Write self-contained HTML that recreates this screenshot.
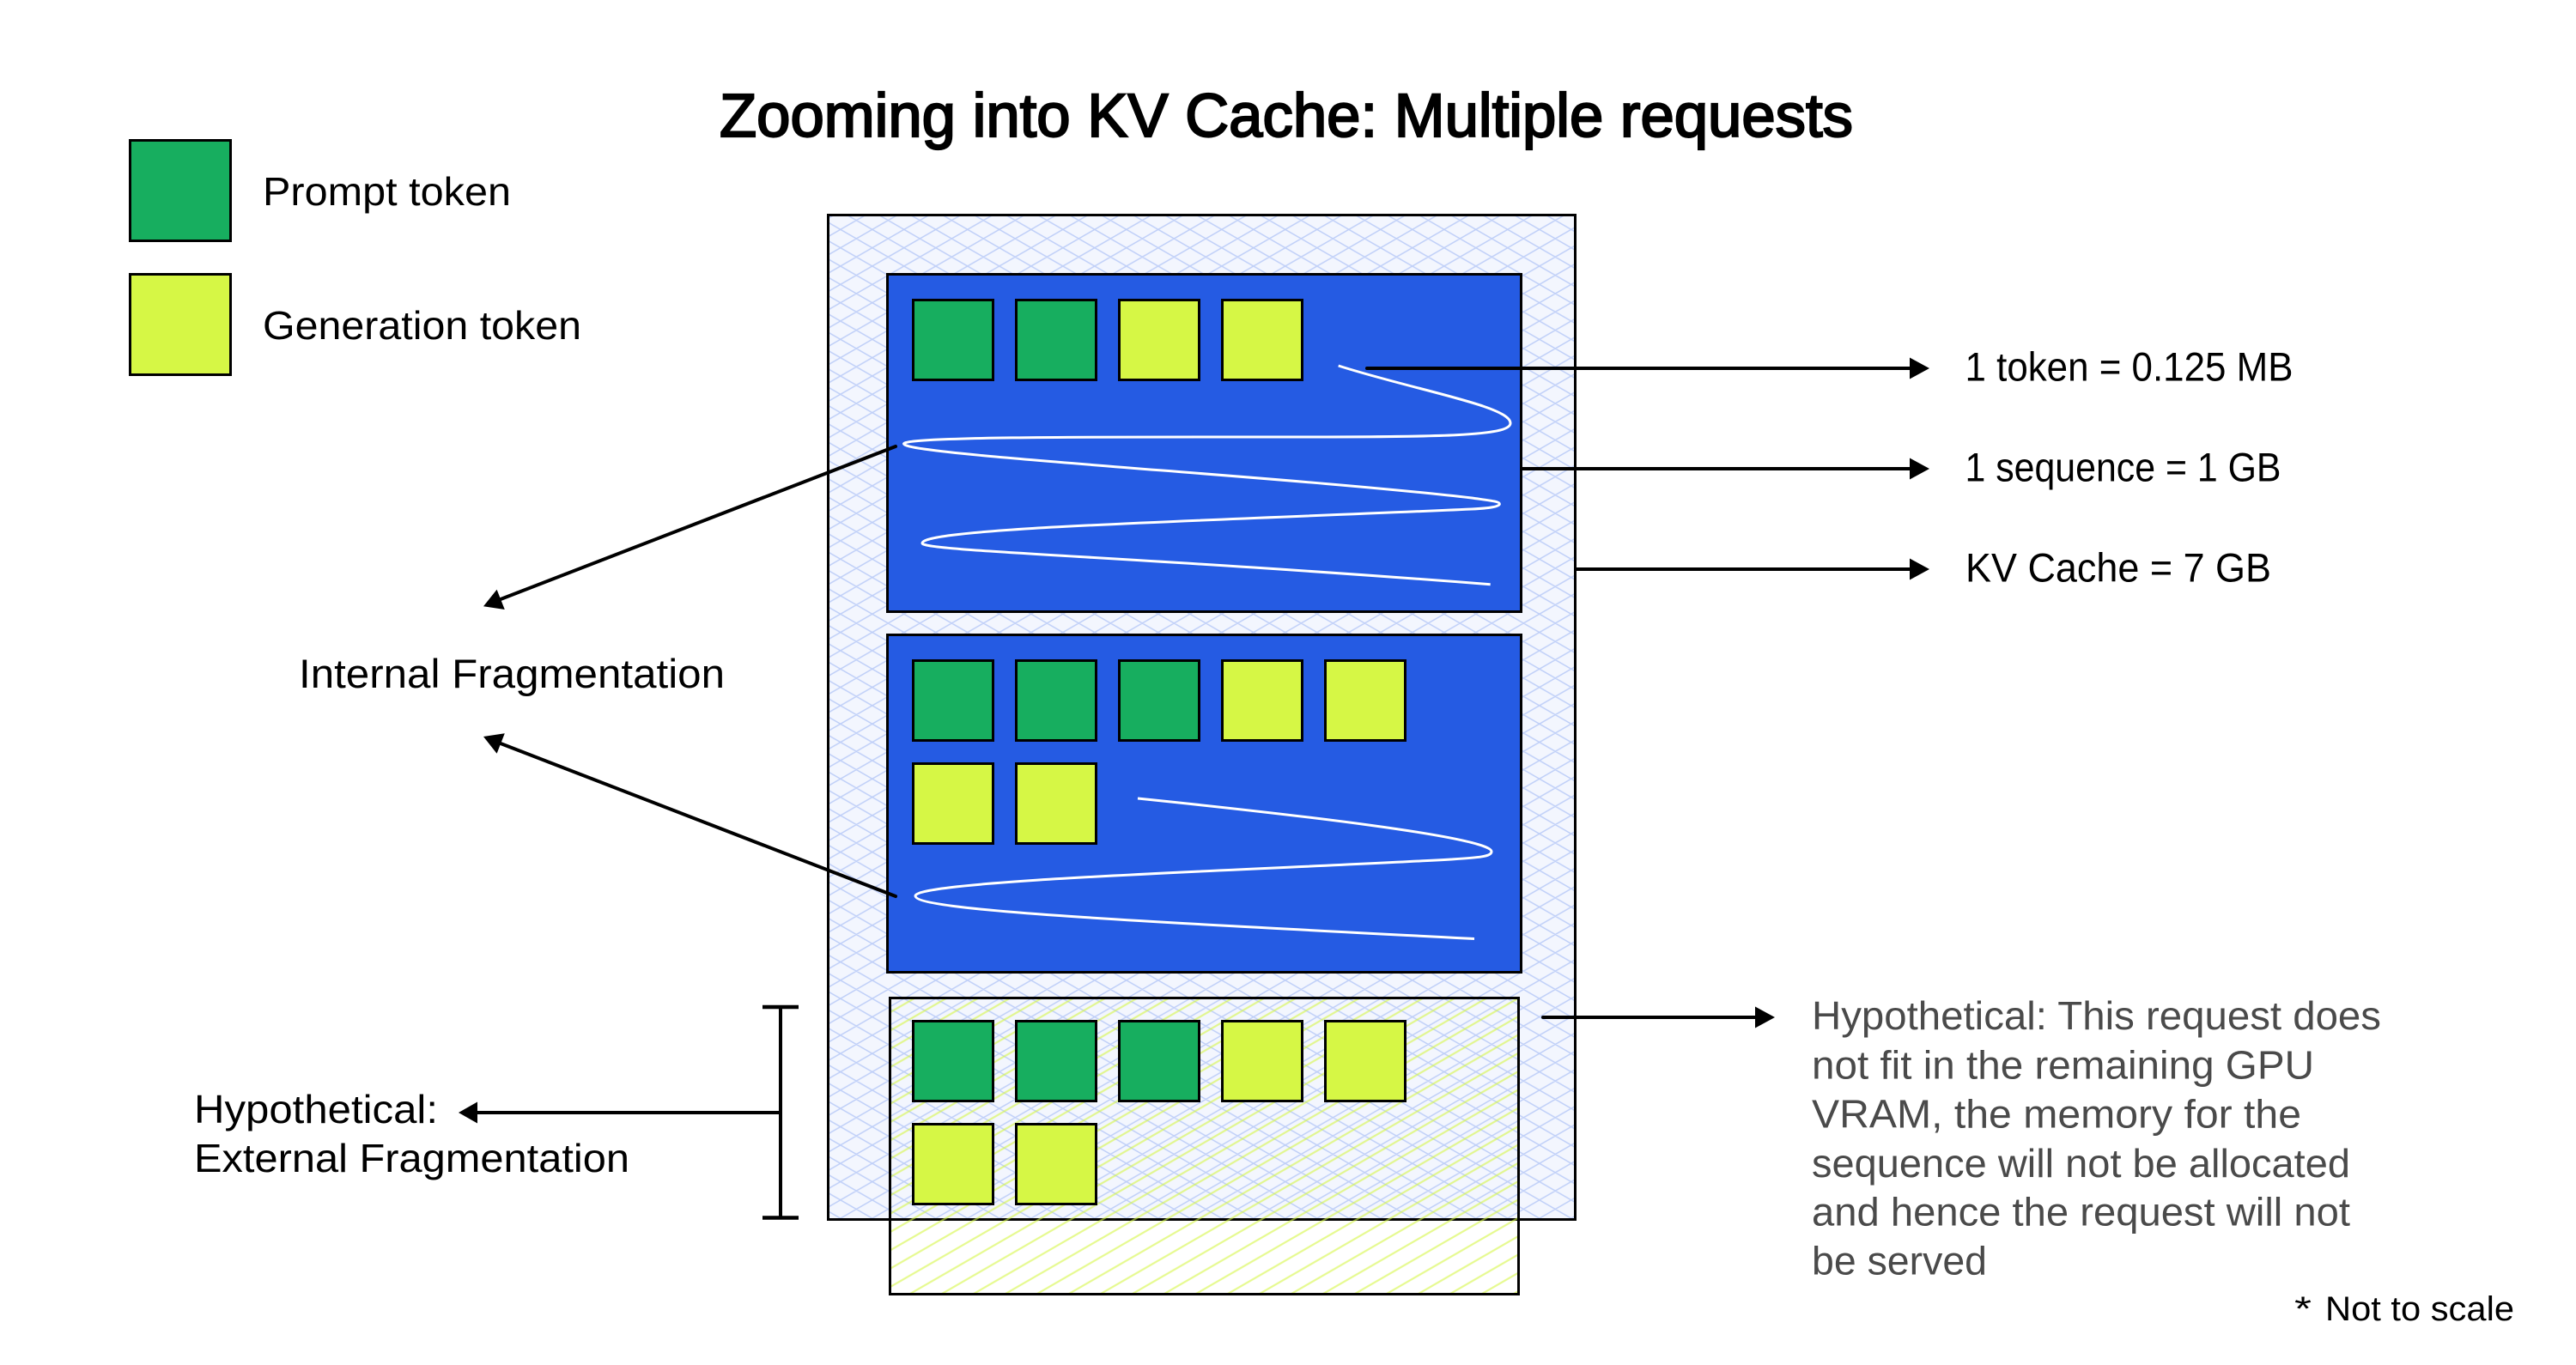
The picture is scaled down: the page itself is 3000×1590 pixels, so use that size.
<!DOCTYPE html>
<html lang="en">
<head>
<meta charset="utf-8">
<title>Zooming into KV Cache: Multiple requests</title>
<style>
html,body{margin:0;padding:0;background:#fff;width:3000px;height:1590px;overflow:hidden}
svg{display:block}
text{font-family:"Liberation Sans",sans-serif;fill:#000}
.g{fill:#17ae5f;stroke:#000;stroke-width:3}
.y{fill:#d6f745;stroke:#000;stroke-width:3}
.l{stroke:#000;stroke-width:4;fill:none;stroke-linecap:round}
.s{stroke:#fff;stroke-width:3;fill:none}
.gr{fill:#4a4a4a;font-size:46px}
</style>
</head>
<body>
<svg xmlns="http://www.w3.org/2000/svg" width="3000" height="1590" viewBox="0 0 3000 1590">
<defs>
<pattern id="bh" patternUnits="userSpaceOnUse" width="37" height="21.33" patternTransform="translate(997.3 278)">
<path d="M-3.7 -2.13L40.7 23.46M-3.7 23.46L40.7 -2.13M-3.7 19.2L3.7 23.46M33.3 -2.13L40.7 2.13M-3.7 2.13L3.7 -2.13M33.3 23.46L40.7 19.2" stroke="#bfcff8" stroke-width="1.5" fill="none"/>
</pattern>
<pattern id="yh" patternUnits="userSpaceOnUse" width="37" height="21.33" patternTransform="translate(1061.7 1484.67)">
<path d="M-3.7 23.46L40.7 -2.13M-3.7 2.13L3.7 -2.13M33.3 23.46L40.7 19.2" stroke="#d6f745" stroke-opacity=".6" stroke-width="2.2" fill="none"/>
</pattern>
</defs>
<rect width="3000" height="1590" fill="#fff"/>

<text x="838" y="159" font-size="71" textLength="1320" lengthAdjust="spacingAndGlyphs" stroke="#000" stroke-width="2.2">Zooming into KV Cache: Multiple requests</text>

<rect class="g" x="151.5" y="163.5" width="117" height="117"/>
<rect class="y" x="151.5" y="319.5" width="117" height="117"/>
<text x="306" y="239" font-size="46" textLength="289" lengthAdjust="spacingAndGlyphs">Prompt token</text>
<text x="306" y="395" font-size="46" textLength="371" lengthAdjust="spacingAndGlyphs">Generation token</text>

<rect x="964.5" y="250.5" width="870" height="1170" fill="#f3f6fe"/>
<rect x="964.5" y="250.5" width="870" height="1170" fill="url(#bh)"/>
<rect x="964.5" y="250.5" width="870" height="1170" fill="none" stroke="#000" stroke-width="3"/>

<rect x="1033.5" y="319.5" width="738" height="393" fill="#255be3" stroke="#000" stroke-width="3"/>
<rect class="g" x="1063.5" y="349.5" width="93" height="93"/>
<rect class="g" x="1183.5" y="349.5" width="93" height="93"/>
<rect class="y" x="1303.5" y="349.5" width="93" height="93"/>
<rect class="y" x="1423.5" y="349.5" width="93" height="93"/>
<path class="s" d="M1558.7 426C1650 455 1759 473 1759 493C1759 508 1680 509 1500 509C1300 509 1052.5 508 1052.5 517C1052.5 530 1500 555 1714 580C1735 583 1746.4 584 1746.4 587C1746.4 590 1735 592 1714 593C1400 607 1074 615 1074 632.7C1074 642 1300 647 1735.7 680.7"/>

<rect x="1033.5" y="739.5" width="738" height="393" fill="#255be3" stroke="#000" stroke-width="3"/>
<rect class="g" x="1063.5" y="769.5" width="93" height="93"/>
<rect class="g" x="1183.5" y="769.5" width="93" height="93"/>
<rect class="g" x="1303.5" y="769.5" width="93" height="93"/>
<rect class="y" x="1423.5" y="769.5" width="93" height="93"/>
<rect class="y" x="1543.5" y="769.5" width="93" height="93"/>
<rect class="y" x="1063.5" y="889.5" width="93" height="93"/>
<rect class="y" x="1183.5" y="889.5" width="93" height="93"/>
<path class="s" d="M1325 930C1500 948 1737 975 1737 992C1737 998 1720 999 1690 1001C1500 1012 1066 1025 1066 1043.5C1066 1060 1300 1072 1717 1093.5"/>

<rect x="1036.5" y="1162.5" width="732" height="345" fill="url(#yh)"/>
<rect x="1036.5" y="1162.5" width="732" height="345" fill="none" stroke="#000" stroke-width="3"/>
<rect class="g" x="1063.5" y="1189.5" width="93" height="93"/>
<rect class="g" x="1183.5" y="1189.5" width="93" height="93"/>
<rect class="g" x="1303.5" y="1189.5" width="93" height="93"/>
<rect class="y" x="1423.5" y="1189.5" width="93" height="93"/>
<rect class="y" x="1543.5" y="1189.5" width="93" height="93"/>
<rect class="y" x="1063.5" y="1309.5" width="93" height="93"/>
<rect class="y" x="1183.5" y="1309.5" width="93" height="93"/>

<!-- right arrows -->
<path class="l" d="M1592 429H2226"/><path d="M2247 429L2224 416.5V441.5Z"/>
<path class="l" d="M1773 546H2226"/><path d="M2247 546L2224 533.5V558.5Z"/>
<path class="l" d="M1836 663H2226"/><path d="M2247 663L2224 650.5V675.5Z"/>
<path class="l" d="M1797 1185H2046"/><path d="M2067 1185L2044 1172.5V1197.5Z"/>

<!-- diagonal arrows -->
<path class="l" d="M1043 520L583 698"/><path d="M563 706.3L578.6 686.7L587.8 710Z"/>
<path class="l" d="M1043 1044L583 866"/><path d="M563 858L587.8 854.3L578.6 877.7Z"/>

<!-- bracket -->
<path d="M888 1173H930M888 1418.5H930" stroke="#000" stroke-width="4.5" fill="none"/>
<path d="M909 1173V1418.5" stroke="#000" stroke-width="4" fill="none"/>
<path d="M909 1296H555" stroke="#000" stroke-width="4" fill="none"/><path d="M534 1296L556 1283.5V1308.5Z"/>

<text x="348" y="801" font-size="47" textLength="496" lengthAdjust="spacingAndGlyphs">Internal Fragmentation</text>
<text x="2288.5" y="443.5" font-size="47" textLength="382" lengthAdjust="spacingAndGlyphs">1 token = 0.125 MB</text>
<text x="2288.5" y="560.5" font-size="47" textLength="368" lengthAdjust="spacingAndGlyphs">1 sequence = 1 GB</text>
<text x="2289" y="677.5" font-size="47" textLength="356" lengthAdjust="spacingAndGlyphs">KV Cache = 7 GB</text>
<text x="226" y="1308" font-size="46" textLength="284" lengthAdjust="spacingAndGlyphs">Hypothetical:</text>
<text x="226" y="1365" font-size="46" textLength="507" lengthAdjust="spacingAndGlyphs">External Fragmentation</text>

<text class="gr" x="2110" y="1199" textLength="663" lengthAdjust="spacingAndGlyphs">Hypothetical: This request does</text>
<text class="gr" x="2110" y="1256.5" textLength="585" lengthAdjust="spacingAndGlyphs">not fit in the remaining GPU</text>
<text class="gr" x="2110" y="1313.5" textLength="570" lengthAdjust="spacingAndGlyphs">VRAM, the memory for the</text>
<text class="gr" x="2110" y="1371" textLength="627" lengthAdjust="spacingAndGlyphs">sequence will not be allocated</text>
<text class="gr" x="2110" y="1427.5" textLength="627" lengthAdjust="spacingAndGlyphs">and hence the request will not</text>
<text class="gr" x="2110" y="1484.5" textLength="204" lengthAdjust="spacingAndGlyphs">be served</text>

<text x="2672" y="1538" font-size="40" textLength="20" lengthAdjust="spacingAndGlyphs">*</text>
<text x="2708" y="1538" font-size="40" textLength="220" lengthAdjust="spacingAndGlyphs">Not to scale</text>
</svg>
</body>
</html>
